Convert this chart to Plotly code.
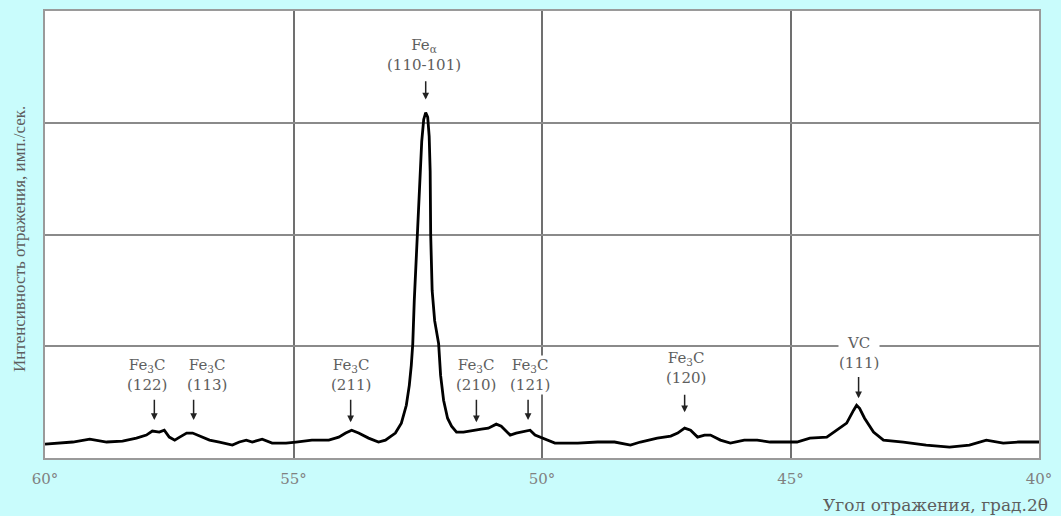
import plotly.graph_objects as go

# 2θ (degrees) and intensity (relative units, grid step = 1)
angle = [60.00, 59.70, 59.44, 59.10, 58.76, 58.44, 58.16, 57.96, 57.84, 57.70, 57.60, 57.50,
         57.39, 57.29, 57.15, 57.03, 56.89, 56.69, 56.49, 56.23, 56.09, 55.95, 55.83, 55.63,
         55.43, 55.15, 54.95, 54.63, 54.29, 54.09, 53.95, 53.83, 53.69, 53.49, 53.29, 53.15,
         52.95, 52.83, 52.73, 52.67, 52.63, 52.60, 52.57, 52.53, 52.50, 52.47, 52.42, 52.38,
         52.34, 52.30, 52.27, 52.25, 52.24, 52.21, 52.16, 52.08, 52.04, 51.98, 51.90, 51.82,
         51.72, 51.58, 51.42, 51.22, 51.08, 50.92, 50.82, 50.64, 50.52, 50.34, 50.24, 50.14,
         49.94, 49.74, 49.28, 48.88, 48.54, 48.22, 48.02, 47.68, 47.41, 47.27, 47.13, 47.01,
         46.87, 46.73, 46.61, 46.41, 46.21, 45.93, 45.67, 45.41, 45.13, 44.87, 44.61, 44.27,
         44.07, 43.87, 43.73, 43.67, 43.61, 43.51, 43.33, 43.13, 42.73, 42.27, 41.80, 41.40,
         41.06, 40.72, 40.40, 40.06, 40.00]
intensity = [0.125, 0.134, 0.143, 0.169, 0.143, 0.151, 0.178, 0.205, 0.241, 0.232, 0.249, 0.187,
             0.160, 0.187, 0.223, 0.223, 0.196, 0.160, 0.143, 0.116, 0.143, 0.160, 0.143, 0.169,
             0.134, 0.134, 0.143, 0.160, 0.160, 0.187, 0.223, 0.249, 0.223, 0.178, 0.143, 0.160,
             0.223, 0.312, 0.472, 0.650, 0.829, 1.024, 1.408, 1.764, 2.004, 2.388, 2.833, 3.030,
             3.090, 3.050, 2.878, 2.566, 2.004, 1.497, 1.229, 1.024, 0.739, 0.517, 0.356, 0.285,
             0.232, 0.232, 0.241, 0.258, 0.267, 0.303, 0.285, 0.205, 0.223, 0.241, 0.249, 0.205,
             0.169, 0.134, 0.134, 0.143, 0.143, 0.116, 0.143, 0.178, 0.196, 0.223, 0.267, 0.249,
             0.187, 0.205, 0.205, 0.160, 0.134, 0.160, 0.160, 0.143, 0.143, 0.143, 0.178, 0.187,
             0.249, 0.312, 0.428, 0.472, 0.445, 0.356, 0.232, 0.160, 0.143, 0.116, 0.098, 0.116,
             0.160, 0.134, 0.143, 0.143, 0.143]

tick_vals = [60, 55, 50, 45, 40]
tick_text = ["60°", "55°", "50°", "45°", "40°"]

# peak labels: text, text x, arrow x, text bottom y, arrow tail y, arrow head y
label_text = ["Fe<sub>3</sub>C<br>(122)", "Fe<sub>3</sub>C<br>(113)", "Fe<sub>3</sub>C<br>(211)",
              "Fe<sub>α</sub><br>(110-101)", "Fe<sub>3</sub>C<br>(210)", "Fe<sub>3</sub>C<br>(121)",
              "Fe<sub>3</sub>C<br>(120)", "VC<br>(111)"]
label_x = [57.94, 56.75, 53.85, 52.38, 51.32, 50.24, 47.11, 43.63]
arrow_x = [57.80, 57.01, 53.85, 52.34, 51.32, 50.28, 47.13, 43.63]
label_y = [0.560, 0.560, 0.560, 3.430, 0.560, 0.560, 0.625, 0.760]
arrow_tail = [0.535, 0.535, 0.535, 3.385, 0.535, 0.535, 0.579, 0.739]
arrow_head = [0.339, 0.339, 0.320, 3.207, 0.320, 0.339, 0.410, 0.535]

serif = "DejaVu Serif"
grey = "#5e5e5e"

fig = go.Figure()
fig.add_trace(go.Scatter(x=angle, y=intensity, mode="lines",
                         line=dict(color="black", width=2.8), hoverinfo="skip"))

ann = []
for t, lx, ax, ly, at, ah in zip(label_text, label_x, arrow_x, label_y, arrow_tail, arrow_head):
    ann.append(dict(x=lx, y=ly, xref="x", yref="y", text=t, showarrow=False,
                    xanchor="center", yanchor="bottom", align="center",
                    bgcolor="white", borderpad=0,
                    font=dict(family=serif, size=15, color=grey)))
    ann.append(dict(x=ax, y=ah, xref="x", yref="y", ax=ax, ay=at, axref="x", ayref="y",
                    text="", showarrow=True, arrowhead=2, arrowsize=0.9, arrowwidth=1.5,
                    arrowcolor="#222"))

ann.append(dict(x=1.011, y=-0.105, xref="paper", yref="paper", xanchor="right", yanchor="middle",
                text="Угол отражения, град.2θ", showarrow=False,
                font=dict(family=serif, size=17, color=grey)))
ann.append(dict(x=-0.025, y=0.49, xref="paper", yref="paper", xanchor="center", yanchor="middle",
                text="Интенсивность отражения, имп./сек.", textangle=-90, showarrow=False,
                font=dict(family="Liberation Serif", size=17, color=grey)))

fig.update_layout(
    width=1061, height=516,
    margin=dict(l=45, r=18, t=9, b=58),
    paper_bgcolor="#c9fcfc", plot_bgcolor="white",
    showlegend=False,
    annotations=ann,
    xaxis=dict(range=[60, 40], tickvals=tick_vals, ticktext=tick_text,
               showgrid=True, gridcolor="#707070", gridwidth=1.5,
               showline=True, linecolor="#9a9a9a", linewidth=2, mirror=True,
               ticks="", zeroline=False, ticklabelstandoff=6,
               tickfont=dict(family=serif, size=15, color="#808080")),
    yaxis=dict(range=[0, 4], tickvals=[1, 2, 3], showticklabels=False,
               showgrid=True, gridcolor="#8a8a8a", gridwidth=1.5,
               showline=True, linecolor="#9a9a9a", linewidth=2, mirror=True,
               ticks="", zeroline=False),
)

fig.write_html("out.html", config={"displayModeBar": False},
               post_script="document.body.style.margin='0';document.body.style.background='#c9fcfc';document.body.style.overflow='hidden';")
